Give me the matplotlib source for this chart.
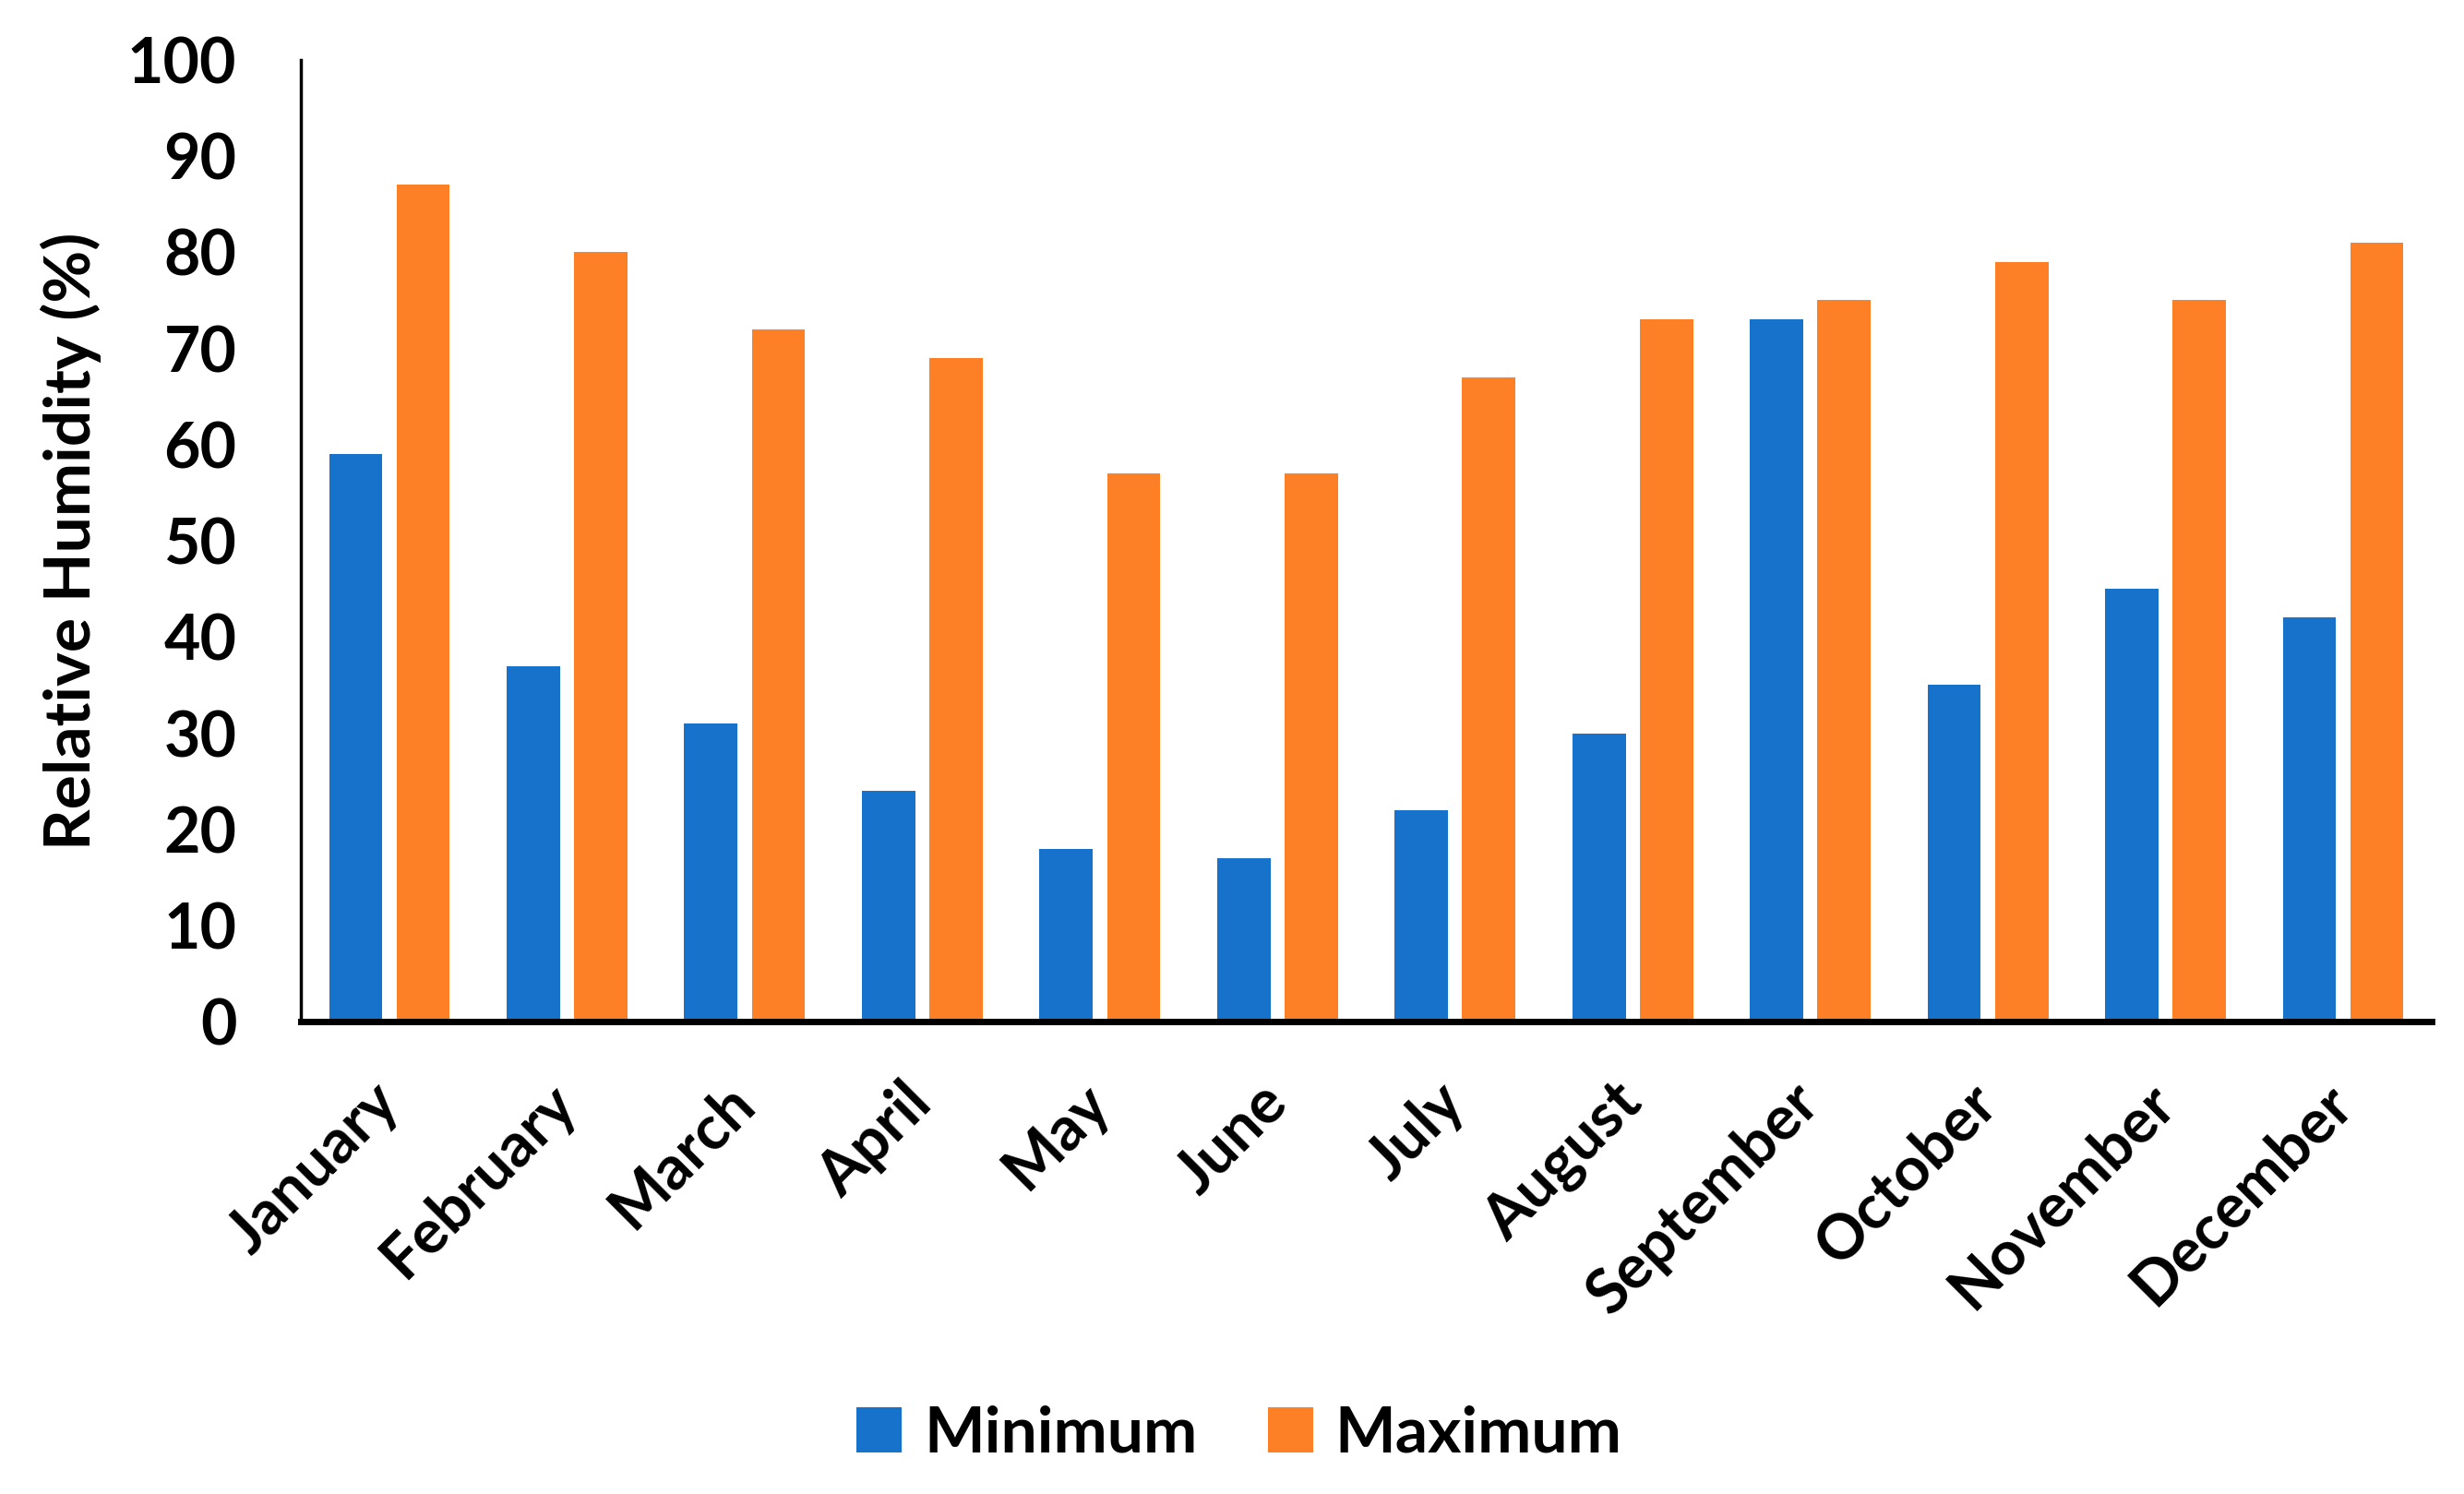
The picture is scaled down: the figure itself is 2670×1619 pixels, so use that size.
import numpy as np
import matplotlib.pyplot as plt
import matplotlib.transforms as mtransforms

months = ["January", "February", "March", "April", "May", "June",
          "July", "August", "September", "October", "November", "December"]
minimum = [59, 37, 31, 24, 18, 17, 22, 30, 73, 35, 45, 42]
maximum = [87, 80, 72, 69, 57, 57, 67, 73, 75, 79, 75, 81]
yticks = [0, 10, 20, 30, 40, 50, 60, 70, 80, 90, 100]

plt.rcParams['font.family'] = ['Lato', 'DejaVu Sans']
plt.rcParams['font.weight'] = 'bold'

fig = plt.figure(figsize=(26.7, 16.19), dpi=100)
ax = fig.add_axes([0.122, 0.316, 0.865, 0.644])

x = np.arange(len(months))
ax.bar(x - 0.19, minimum, width=0.30, color='#1772CB', label='Minimum')
ax.bar(x + 0.19, maximum, width=0.30, color='#FE8026', label='Maximum')

ax.set_xlim(-0.5, 11.5)
ax.set_ylim(0, 100)
ax.set_yticks(yticks)
ax.set_yticklabels([str(v) for v in yticks], fontsize=49, fontweight='bold')
ax.set_xticks(x)
ax.set_xticklabels(months, rotation=45, ha='right', rotation_mode='anchor',
                   fontsize=48, fontweight='bold')
ax.tick_params(axis='y', length=0, pad=50)
ax.tick_params(axis='x', length=0, pad=40)

# nudge month labels a little to the left
shift = mtransforms.ScaledTranslation(-0.22, 0, fig.dpi_scale_trans)
for lbl in ax.get_xticklabels():
    lbl.set_transform(lbl.get_transform() + shift)

ax.set_ylabel('Relative Humidity (%)', fontsize=50, fontweight='bold', labelpad=20)

for s in ['top', 'right']:
    ax.spines[s].set_visible(False)
ax.spines['left'].set_linewidth(2.5)
ax.spines['bottom'].set_linewidth(5)

fig.legend(loc='center', bbox_to_anchor=(0.503, 0.04), ncol=2, frameon=False,
           handlelength=0.7, handleheight=0.7, handletextpad=0.35, columnspacing=1.1,
           prop={'size': 50, 'weight': 'bold'})

fig.savefig('out.png', dpi=100)
